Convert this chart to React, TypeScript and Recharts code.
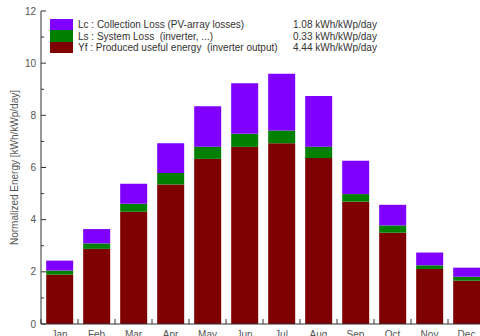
import React from "react";
import { Bar, BarChart, XAxis, YAxis } from "recharts";

// Monthly normalized energies, kWh/kWp/day
const months = ["Jan", "Feb", "Mar", "Apr", "May", "Jun", "Jul", "Aug", "Sep", "Oct", "Nov", "Dec"];
const yfValues = [1.89, 2.88, 4.3, 5.35, 6.33, 6.79, 6.93, 6.36, 4.69, 3.5, 2.11, 1.66];
const lsValues = [0.16, 0.21, 0.31, 0.44, 0.47, 0.5, 0.49, 0.44, 0.29, 0.28, 0.14, 0.15];
const lcValues = [0.38, 0.55, 0.77, 1.14, 1.55, 1.94, 2.17, 1.94, 1.28, 0.79, 0.49, 0.35];
const yTicks = [0, 1, 2, 3, 4, 5, 6, 7, 8, 9, 10, 11, 12];

const legendLabels = [
	"Lc : Collection Loss (PV-array losses)",
	"Ls : System Loss  (inverter, ...)",
	"Yf : Produced useful energy  (inverter output)",
];
const legendValues = ["1.08 kWh/kWp/day", "0.33 kWh/kWp/day", "4.44 kWh/kWp/day"];
const legendColors = ["#8000ff", "#008000", "#7f0000"];

const AXIS = "#333";
const TEXT = "#555";
const FONT = "'Liberation Sans', Arial, sans-serif";

const data = months.map((month, i) => ({
	month,
	yf: yfValues[i],
	ls: lsValues[i],
	lc: lcValues[i],
}));

function MonthTick(props: any) {
	const { x, y, payload } = props;
	const half = payload.offset || 18.5;
	return (
		<g>
			<line x1={x - half} x2={x - half} y1={y} y2={y - 5} stroke={AXIS} />
			<text x={x} y={y} dy={14} textAnchor="middle" fontSize={10} fill={TEXT} fontFamily={FONT}>
				{payload.value}
			</text>
		</g>
	);
}

function TopTick(props: any) {
	const { x, y, payload } = props;
	const half = payload.offset || 18.5;
	return <line x1={x - half} x2={x - half} y1={y} y2={y + 5} stroke={AXIS} />;
}

function EnergyTick(props: any) {
	const { x, y, payload } = props;
	const major = payload.value % 2 === 0;
	return (
		<g>
			<line x1={x} x2={x + (major ? 5 : 3)} y1={y} y2={y} stroke={AXIS} />
			{major && (
				<text x={x - 5} y={y} dy={3.5} textAnchor="end" fontSize={10} fill={TEXT} fontFamily={FONT}>
					{payload.value}
				</text>
			)}
		</g>
	);
}

function AxisTitle(props: any) {
	const { viewBox } = props;
	const cy = viewBox.y + viewBox.height / 2;
	return (
		<text
			x={15}
			y={cy}
			transform={`rotate(-90, 15, ${cy})`}
			textAnchor="middle"
			dominantBaseline="middle"
			fontSize={10}
			fill={TEXT}
			fontFamily={FONT}
		>
			Normalized Energy [kWh/kWp/day]
		</text>
	);
}

export default function App() {
	return (
		<div
			style={{
				position: "fixed",
				left: 0,
				top: 0,
				width: 480,
				height: 336,
				overflow: "hidden",
				background: "#fff",
			}}
		>
			<BarChart
				width={490}
				height={350}
				data={data}
				margin={{ top: 11, right: 5, left: 0, bottom: 0 }}
				barCategoryGap="14%"
			>
				<XAxis
					dataKey="month"
					height={26}
					stroke={AXIS}
					tickLine={false}
					tickSize={0}
					tickMargin={0}
					interval={0}
					tick={<MonthTick />}
				/>
				<XAxis
					xAxisId="top"
					orientation="top"
					dataKey="month"
					height={0}
					stroke={AXIS}
					tickLine={false}
					tickSize={0}
					tickMargin={0}
					interval={0}
					tick={<TopTick />}
				/>
				<YAxis
					width={41}
					domain={[0, 12]}
					ticks={yTicks}
					interval={0}
					stroke={AXIS}
					tickLine={false}
					tickSize={0}
					tickMargin={0}
					tick={<EnergyTick />}
					label={<AxisTitle />}
				/>
				<Bar dataKey="yf" stackId="a" fill="#7f0000" isAnimationActive={false} />
				<Bar dataKey="ls" stackId="a" fill="#008000" isAnimationActive={false} />
				<Bar dataKey="lc" stackId="a" fill="#8000ff" isAnimationActive={false} />
			</BarChart>
			<div
				style={{
					position: "absolute",
					left: 50,
					top: 19,
					fontFamily: FONT,
					fontSize: 10,
					color: "#333",
				}}
			>
				{legendLabels.map((label, i) => (
					<div key={label} style={{ display: "flex", alignItems: "center", height: 11.4 }}>
						<span style={{ width: 23, height: "100%", background: legendColors[i] }} />
						<span style={{ marginLeft: 5, width: 215, whiteSpace: "pre" }}>{label}</span>
						<span style={{ whiteSpace: "pre" }}>{legendValues[i]}</span>
					</div>
				))}
			</div>
		</div>
	);
}
